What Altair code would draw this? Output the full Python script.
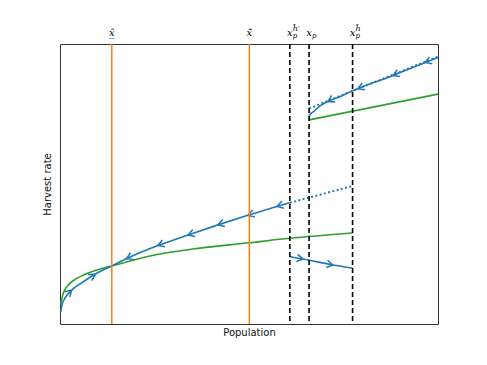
import altair as alt
import numpy as np
import pandas as pd

# ---- data (arbitrary units 0-10) ----
green_low_x = [0.02, 0.04, 0.09, 0.16, 0.26, 0.42, 0.62, 0.97, 1.37, 2.38, 3.70, 5.01, 6.08, 7.74]
green_low_y = [0.68, 0.86, 1.11, 1.29, 1.45, 1.61, 1.75, 1.93, 2.07, 2.43, 2.71, 2.90, 3.06, 3.25]

blue_low_x = [0.02, 0.05, 0.13, 0.31, 0.62, 0.97, 1.37]
blue_low_y = [0.43, 0.68, 0.92, 1.21, 1.51, 1.81, 2.07]

blue_mid_x = [1.37, 1.77, 2.59, 3.39, 4.18, 4.97, 5.74, 6.08]
blue_mid_y = [2.07, 2.34, 2.80, 3.18, 3.54, 3.88, 4.20, 4.33]

blue_dot_low_x = [6.08, 7.74]
blue_dot_low_y = [4.33, 4.93]

blue_right_x = [6.08, 6.43, 7.22, 7.74]
blue_right_y = [2.40, 2.32, 2.11, 2.00]

green_up_x = [6.59, 10.0]
green_up_y = [7.29, 8.21]

blue_up_x = [6.59, 6.60, 6.64, 6.70, 6.88, 7.14, 7.41, 7.74, 8.11, 8.55, 9.00, 10.0]
blue_up_y = [7.31, 7.43, 7.52, 7.58, 7.79, 7.98, 8.12, 8.33, 8.53, 8.74, 8.98, 9.52]

blue_dot_up_x = [6.59, 10.0]
blue_dot_up_y = [7.70, 9.55]

orange_x = [1.37, 5.01]
dashed_x = [6.08, 6.59, 7.74]

label_x = [1.37, 5.01, 6.08, 6.59, 7.74]
label_main = ["x\u0302", "x\u0304\u0302", "x", "x", "x"]
label_under = ["_", "", "", "", ""]
label_sub = ["", "", "p", "p", "p"]
label_sup = ["", "", "\u0125\u2032", "", "\u0125"]

# arrows: positions along each blue curve
arrow_low_x = [0.31, 0.93]
arrow_mid_x = [1.76, 2.59, 3.39, 4.18, 4.97, 5.74]
arrow_right_x = [6.43, 7.22]
arrow_up_x = [7.09, 7.88, 8.81, 9.66]

W, H = 378, 280
XMAX, YMAX = 10.0, 10.0

BLUE = "#1f77b4"
ORANGE = "#ff7f0e"
GREEN = "#2ca02c"

xs = alt.Scale(domain=[0, XMAX], nice=False, zero=False)
ys = alt.Scale(domain=[0, YMAX], nice=False, zero=False)


def df(x, y):
    return pd.DataFrame({"x": x, "y": y, "o": range(len(x))})


def arrows(cx, cy, ax, direction):
    rows = []
    for a in ax:
        y = float(np.interp(a, cx, cy))
        y0 = float(np.interp(a - 0.03, cx, cy))
        y1 = float(np.interp(a + 0.03, cx, cy))
        dxp = 0.06 * W / XMAX
        dyp = -(y1 - y0) * H / YMAX
        ang = np.degrees(np.arctan2(dyp, dxp))
        if direction < 0:
            ang += 180
        rows.append({"x": a, "y": y, "ang": float(ang % 360)})
    return pd.DataFrame(rows)


def line(d, color, dotted=False, interp="monotone"):
    kw = dict(color=color, strokeWidth=1.6, interpolate=interp, clip=True)
    if dotted:
        kw["strokeDash"] = [2, 2.4]
        kw["strokeWidth"] = 1.9
    return alt.Chart(d).mark_line(**kw).encode(
        x=alt.X("x:Q", scale=xs, axis=alt.Axis(title="Population", labels=False, ticks=False,
                                                domain=False, grid=False, titlePadding=3)),
        y=alt.Y("y:Q", scale=ys, axis=alt.Axis(title="Harvest rate", labels=False, ticks=False,
                                                domain=False, grid=False, titlePadding=8)),
        order="o:Q",
    )


ARROW = "M-1,-0.6L0,0L-1,0.6"


def arrow_layer(d):
    return alt.Chart(d).mark_point(shape=ARROW, filled=False, color=BLUE, strokeWidth=1.5,
                                   size=150, opacity=1).encode(
        x=alt.X("x:Q", scale=xs), y=alt.Y("y:Q", scale=ys), angle=alt.Angle("ang:Q", scale=None)
    )


orange_rules = alt.Chart(pd.DataFrame({"x": orange_x})).mark_rule(color=ORANGE, strokeWidth=1.5).encode(
    x=alt.X("x:Q", scale=xs))
dashed_rules = alt.Chart(pd.DataFrame({"x": dashed_x})).mark_rule(
    color="black", strokeWidth=1.6, strokeDash=[5, 3]).encode(x=alt.X("x:Q", scale=xs))

labels = pd.DataFrame({"x": label_x, "main": label_main, "under": label_under,
                       "sub": label_sub, "sup": label_sup})


def lab(field, size, align, dx, dy, style="italic"):
    return alt.Chart(labels).mark_text(font="DejaVu Serif", fontStyle=style, fontSize=size,
                                       baseline="alphabetic", align=align, dx=dx, dy=dy,
                                       fill="black").encode(
        x=alt.X("x:Q", scale=xs), y=alt.value(0), text=f"{field}:N")


chart = alt.layer(
    line(df(green_low_x, green_low_y), GREEN),
    line(df(green_up_x, green_up_y), GREEN, interp="linear"),
    line(df(blue_dot_low_x, blue_dot_low_y), BLUE, dotted=True, interp="linear"),
    line(df(blue_low_x, blue_low_y), BLUE),
    line(df(blue_mid_x, blue_mid_y), BLUE),
    line(df(blue_right_x, blue_right_y), BLUE),
    line(df(blue_up_x, blue_up_y), BLUE),
    line(df(blue_dot_up_x, blue_dot_up_y), BLUE, dotted=True, interp="linear"),
    arrow_layer(arrows(blue_low_x, blue_low_y, arrow_low_x, 1)),
    arrow_layer(arrows(blue_mid_x, blue_mid_y, arrow_mid_x, -1)),
    arrow_layer(arrows(blue_right_x, blue_right_y, arrow_right_x, 1)),
    arrow_layer(arrows(blue_up_x, blue_up_y, arrow_up_x, -1)),
    orange_rules,
    dashed_rules,
    lab("main", 10, "center", 0, -8),
    lab("under", 9, "center", 0, -8, "normal"),
    lab("sub", 7, "left", 3, -6),
    lab("sup", 8, "left", 3, -13),
).properties(
    width=W, height=H,
    autosize=alt.AutoSizeParams(type="none"),
    padding={"left": 52, "top": 36, "right": 30, "bottom": 25},
    background="white",
).configure_view(
    stroke="#333", strokeWidth=1
).configure_axis(
    titleFont="DejaVu Sans", titleFontSize=10, titleFontWeight="normal", titleColor="#111"
)

chart.save("out.html", embed_options={"renderer": "svg", "actions": False})
